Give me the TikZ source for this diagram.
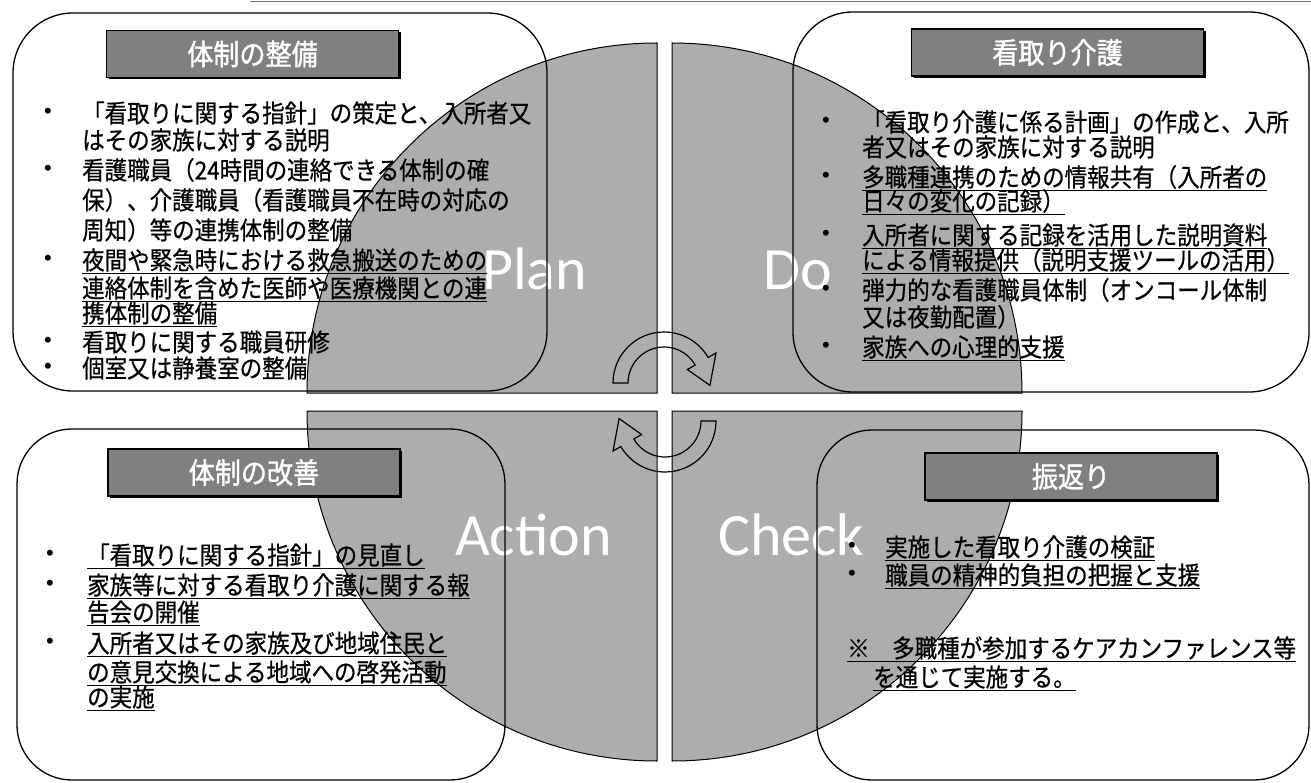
\documentclass[tikz,border=0pt]{standalone}
\usepackage{fontspec}
\usetikzlibrary{calc,shadows}
\newfontfamily\jp[FakeStretch=0.9,FakeBold=0.6]{Noto Sans CJK JP}
\newfontfamily\jph[FakeStretch=0.9,FakeBold=1.2]{Noto Sans CJK JP}
\newfontfamily\labfont{Carlito}
\newfontfamily\bulfont{Liberation Sans}
\definecolor{quadgray}{gray}{0.68}
\definecolor{headgray}{gray}{0.50}
\newcommand{\myul}[1]{\setbox0\hbox{#1}\rlap{\rule[-4.5pt]{\wd0}{1.3pt}}\box0}
\newcommand{\bodyfont}{\jp\fontsize{25}{25}\selectfont}
\tikzset{
  quad/.style={fill=quadgray, draw=black, line width=1pt},
  cyclearrow/.style={draw=black, line width=1.2pt, line join=miter},
  tbox/.style={draw=black, line width=1.3pt},
  hdr/.style={draw=black, line width=1.5pt, fill=headgray, text=white,
    font=\jph\fontsize{29}{29}\selectfont, minimum width=292pt, minimum height=47pt,
    inner sep=0pt, drop shadow={shadow xshift=2pt, shadow yshift=-2pt, opacity=1, fill=black}},
  lab/.style={anchor=base west, inner sep=0pt, text=white, font=\labfont\fontsize{60}{60}\selectfont},
  txt/.style={anchor=base west, inner sep=0pt, font=\bodyfont},
  bul/.style={anchor=center, inner sep=0pt, font=\bulfont\fontsize{22}{22}\selectfont}
}
\begin{document}
\begin{tikzpicture}[x=1pt,y=-1pt]
\useasboundingbox (0,0) rectangle (1311,783);
\fill[white] (0,0) rectangle (1311,783);
\draw[black!55, line width=1.5pt] (250,1.5) -- (1311,1.5);

% PDCA quadrants
\path[quad] (657,393) -- (657,43) arc[start angle=90,end angle=180,radius=350pt] -- cycle;
\path[quad] (672,393) -- (1022,393) arc[start angle=0,end angle=90,radius=350pt] -- cycle;
\path[quad] (657,411) -- (307,411) arc[start angle=180,end angle=270,radius=350pt] -- cycle;
\path[quad] (672,411) -- (672,761) arc[start angle=270,end angle=360,radius=350pt] -- cycle;

% cycle arrows
\coordinate (c1) at (664,383);
\coordinate (c2) at (665,421);
\draw[cyclearrow] ($(c1)+(180:51pt)$) arc[start angle=180,end angle=30,radius=51pt]
  -- ($(c1)+(30:60pt)$) -- ($(c1)+(-3:46pt)$) -- ($(c1)+(30:27pt)$)
  -- ($(c1)+(30:36pt)$) arc[start angle=30,end angle=180,radius=36pt] -- cycle;
\draw[cyclearrow] ($(c2)+(0:51pt)$) arc[start angle=0,end angle=-150,radius=51pt]
  -- ($(c2)+(-150:60pt)$) -- ($(c2)+(177:46pt)$) -- ($(c2)+(-150:27pt)$)
  -- ($(c2)+(-150:36pt)$) arc[start angle=-150,end angle=0,radius=36pt] -- cycle;

% PDCA labels
\node[lab] (plan) at (482,290) {Plan};
\node[lab] (do) at (763,290) {Do};
\node[lab] (action) at (455,555) {Action};
\node[lab] (check) at (718,555) {Check};

% rounded frames
\draw[tbox, rounded corners=60pt] (13,13) rectangle (547,391);
\draw[tbox, rounded corners=60pt] (793,12) rectangle (1309,392);
\draw[tbox, rounded corners=55pt] (17,429) rectangle (505,780);
\draw[tbox, rounded corners=55pt] (817,430) rectangle (1309,780);

% headers
\node[hdr] (h1) at (252.5,54) {体制の整備};
\node[hdr] (h2) at (1057.5,52.5) {看取り介護};
\node[hdr] (h3) at (254,472.5) {体制の改善};
\node[hdr] (h4) at (1071,476.5) {振返り};

% top-left text
\node[bul] (b11) at (48,113) {•};
\node[txt] (t11) at (82,122.5) {「看取りに関する指針」の策定と、入所者又};
\node[txt] (t12) at (82,149.5) {はその家族に対する説明};
\node[bul] (b12) at (48,170) {•};
\node[txt] (t13) at (82,179.5) {看護職員（24時間の連絡できる体制の確};
\node[txt] (t14) at (82,209.5) {保）、介護職員（看護職員不在時の対応の};
\node[txt] (t15) at (82,239.5) {周知）等の連携体制の整備};
\node[bul] (b13) at (48,260) {•};
\node[txt] (t16) at (82,269.5) {\myul{夜間や緊急時における救急搬送のための}};
\node[txt] (t17) at (82,297.5) {\myul{連絡体制を含めた医師や医療機関との連}};
\node[txt] (t18) at (82,322.5) {\myul{携体制の整備}};
\node[bul] (b14) at (48,342) {•};
\node[txt] (t19) at (82,351.5) {看取りに関する職員研修};
\node[bul] (b15) at (48,368) {•};
\node[txt] (t110) at (82,377.5) {個室又は静養室の整備};

% top-right text
\node[bul] (b21) at (826,122) {•};
\node[txt] (t21) at (862,131.5) {「看取り介護に係る計画」の作成と、入所};
\node[txt] (t22) at (862,156.5) {者又はその家族に対する説明};
\node[bul] (b22) at (826,177) {•};
\node[txt] (t23) at (862,186.5) {\myul{多職種連携のための情報共有（入所者の}};
\node[txt] (t24) at (862,210.5) {\myul{日々の変化の記録）}};
\node[bul] (b23) at (826,235) {•};
\node[txt] (t25) at (862,244.5) {\myul{入所者に関する記録を活用した説明資料}};
\node[txt] (t26) at (862,269.5) {\myul{による情報提供（説明支援ツールの活用）}};
\node[bul] (b24) at (826,290) {•};
\node[txt] (t27) at (862,299.5) {弾力的な看護職員体制（オンコール体制};
\node[txt] (t28) at (862,326.5) {又は夜勤配置）};
\node[bul] (b25) at (826,347) {•};
\node[txt] (t29) at (862,356.5) {\myul{家族への心理的支援}};

% bottom-left text
\node[bul] (b31) at (50,555) {•};
\node[txt] (t31) at (87,564.5) {\myul{「看取りに関する指針」の見直し}};
\node[bul] (b32) at (50,585) {•};
\node[txt] (t32) at (87,594.5) {\myul{家族等に対する看取り介護に関する報}};
\node[txt] (t33) at (87,621.5) {\myul{告会の開催}};
\node[bul] (b33) at (50,643) {•};
\node[txt] (t34) at (87,652.5) {\myul{入所者又はその家族及び地域住民と}};
\node[txt] (t35) at (87,681.5) {\myul{の意見交換による地域への啓発活動}};
\node[txt] (t36) at (87,706.5) {\myul{の実施}};

% bottom-right text
\node[bul] (b41) at (852,547) {•};
\node[txt] (t41) at (885,556.5) {\myul{実施した看取り介護の検証}};
\node[bul] (b42) at (852,575) {•};
\node[txt] (t42) at (885,584.5) {\myul{職員の精神的負担の把握と支援}};
\node[txt] (t43) at (847,657.5) {\myul{※　多職種が参加するケアカンファレンス等}};
\node[txt] (t44) at (873,686.5) {\myul{を通じて実施する。}};
\end{tikzpicture}
\end{document}
